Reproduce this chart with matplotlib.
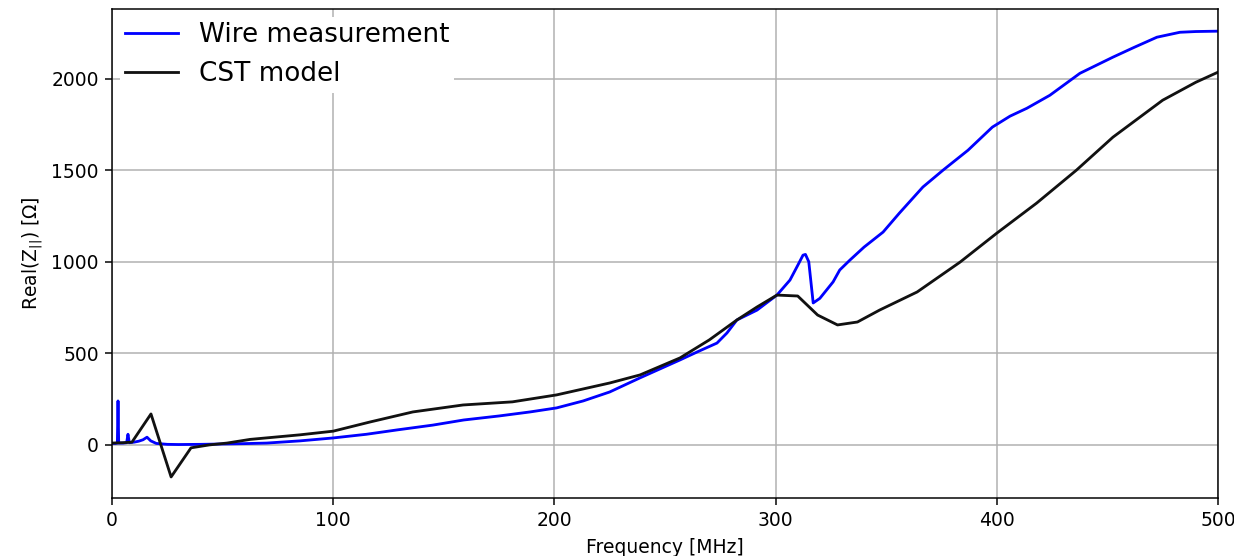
import matplotlib.pyplot as plt

# 线数据 (MHz, Ohm)
freq_wire = [0, 1.5, 2.4, 2.7, 3.0, 5, 6.6, 7.2, 7.8, 10, 12, 14, 15.8, 17.5, 20, 25, 30, 40,
             50, 60, 70, 85, 100, 115, 129, 145, 159, 175, 189, 201, 213, 225, 238.7, 256.8,
             265, 273.5, 278, 282.5, 291.6, 300.6, 306.5, 310, 312.4, 313.5, 315, 317, 320,
             323, 326, 329, 333.6, 340, 348.6, 356, 366.6, 375.7, 387, 398, 406, 413.6, 424,
             437.6, 452.5, 462, 472.4, 482.8, 490, 500]
real_wire = [8, 8, 10, 240, 10, 10, 12, 58, 12, 15, 20, 28, 42, 22, 8, 3, 2, 3,
             5, 7, 10, 22, 38, 58, 82, 108, 136, 158, 180, 202, 240, 289, 366, 464,
             510, 556, 611, 682, 736, 818, 900, 980, 1036, 1040, 1000, 775, 800,
             845, 890, 955, 1009, 1080, 1162, 1266, 1408, 1500, 1609, 1735, 1795, 1838, 1909,
             2029, 2117, 2170, 2226, 2253, 2257, 2259]

freq_cst = [0, 5, 9, 17.6, 26.7, 35.7, 44, 52, 62.4, 85, 100, 116.6, 136, 158.7, 181, 201,
            225, 238.7, 256.8, 270, 282.5, 291.6, 300.6, 310, 319, 328, 337, 347, 364,
            383.4, 400, 418, 436, 452.5, 475, 490, 500]
real_cst = [10, 12, 15, 169, -175, -16, 0, 10, 30, 55, 75, 125, 180, 218, 235, 273,
            338, 382, 475, 573, 682, 753, 818, 813, 709, 655, 671, 736, 835,
            998, 1156, 1320, 1500, 1680, 1882, 1980, 2035]

labels = ['Wire measurement', 'CST model']

dpi = 135
fig = plt.figure(figsize=(1234 / dpi, 556 / dpi), dpi=dpi)
ax = fig.add_axes([0.0908, 0.1043, 0.8962, 0.8795])

ax.plot(freq_wire, real_wire, color='#0000ff', linewidth=1.5, label=labels[0])
ax.plot(freq_cst, real_cst, color='#111111', linewidth=1.5, label=labels[1])

ax.set_xlim(0, 500)
ax.set_ylim(-290, 2380)
ax.set_xticks([0, 100, 200, 300, 400, 500])
ax.set_yticks([0, 500, 1000, 1500, 2000])
ax.grid(True, color='#b0b0b0')

ax.set_xlabel('Frequency [MHz]')
ax.set_ylabel('Real(Z$_{||}$) [Ω]')

# 图例
ax.legend(loc='upper left', fontsize=14, framealpha=1, edgecolor='none', fancybox=False,
          borderaxespad=0.3, borderpad=0.2)

plt.savefig('out.png', dpi=dpi)
